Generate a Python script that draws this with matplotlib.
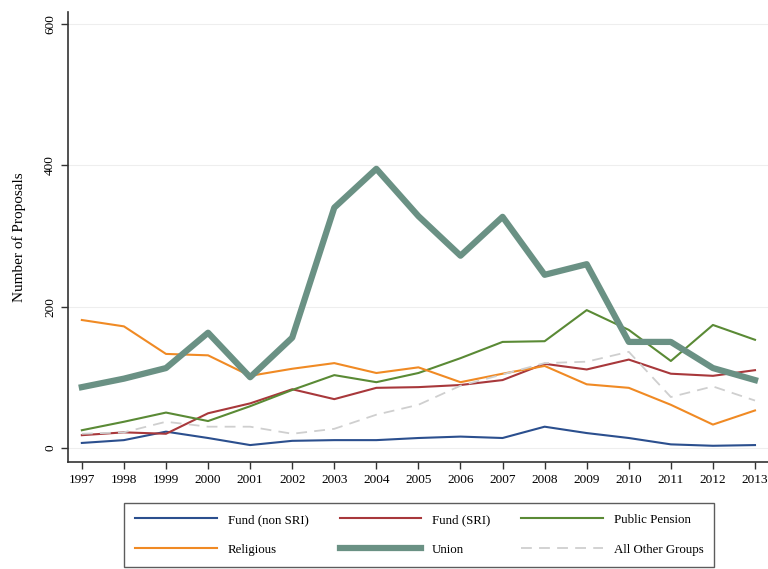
import matplotlib.pyplot as plt

plt.rcParams['font.family'] = ['Liberation Serif', 'DejaVu Serif']

years = list(range(1997, 2014))

fund_non_sri = [7, 11, 23, 14, 4, 10, 11, 11, 14, 16, 14, 30, 21, 14, 5, 3, 4]
fund_sri = [18, 22, 20, 49, 63, 83, 69, 85, 86, 89, 96, 119, 111, 125, 105, 102, 110]
public_pension = [25, 37, 50, 38, 59, 82, 103, 93, 106, 127, 150, 151, 195, 167, 123, 174, 153]
religious = [181, 172, 133, 131, 102, 112, 120, 106, 114, 93, 105, 116, 90, 85, 61, 33, 53]
union = [86, 98, 113, 163, 100, 156, 340, 395, 328, 272, 327, 245, 260, 150, 150, 113, 96]
other_groups = [20, 22, 37, 30, 30, 20, 27, 47, 61, 88, 104, 120, 122, 136, 72, 87, 67]

fig = plt.figure(figsize=(7.68, 5.69), dpi=100)
ax = fig.add_axes([0.0885, 0.188, 0.911, 0.791])

for y in (0, 200, 400, 600):
    ax.axhline(y, color='#eeeeee', lw=0.8, zorder=0)

h_non, = ax.plot(years, fund_non_sri, color='#2b4f8e', lw=1.5, label='Fund (non SRI)')
h_sri, = ax.plot(years, fund_sri, color='#a8383b', lw=1.5, label='Fund (SRI)')
h_pen, = ax.plot(years, public_pension, color='#5a8a35', lw=1.5, label='Public Pension')
h_rel, = ax.plot(years, religious, color='#f08a24', lw=1.5, label='Religious')
h_uni, = ax.plot(years, union, color='#6a9184', lw=4.5, label='Union')
h_oth, = ax.plot(years, other_groups, color='#cfcfcf', lw=1.3, ls=(0, (6, 4)),
                 label='All Other Groups')

ax.set_xlim(1996.67, 2013.3)
ax.set_ylim(-20, 617)
ax.set_xticks(years)
ax.set_yticks([0, 200, 400, 600])
ax.tick_params(axis='both', labelsize=9.5, length=5, width=1, color='#333333')
for lab in ax.get_yticklabels():
    lab.set_rotation(90)
    lab.set_va('center')
ax.set_ylabel('Number of Proposals', fontsize=11, labelpad=13)

for side in ('top', 'right'):
    ax.spines[side].set_visible(False)
for side in ('left', 'bottom'):
    ax.spines[side].set_color('#333333')
    ax.spines[side].set_linewidth(1.2)

# legend is filled column by column, so order handles to read row-wise
handles = [h_non, h_rel, h_sri, h_uni, h_pen, h_oth]
leg = fig.legend(handles=handles, labels=[h.get_label() for h in handles],
                 loc='center', bbox_to_anchor=(0.546, 0.06), ncol=3,
                 fontsize=9.3, frameon=True, fancybox=False, edgecolor='#333333',
                 handlelength=6.3, columnspacing=2.4, handletextpad=0.85,
                 borderpad=0.85, labelspacing=1.4)
leg.get_frame().set_linewidth(1.0)

fig.savefig('out.png', dpi=100)
